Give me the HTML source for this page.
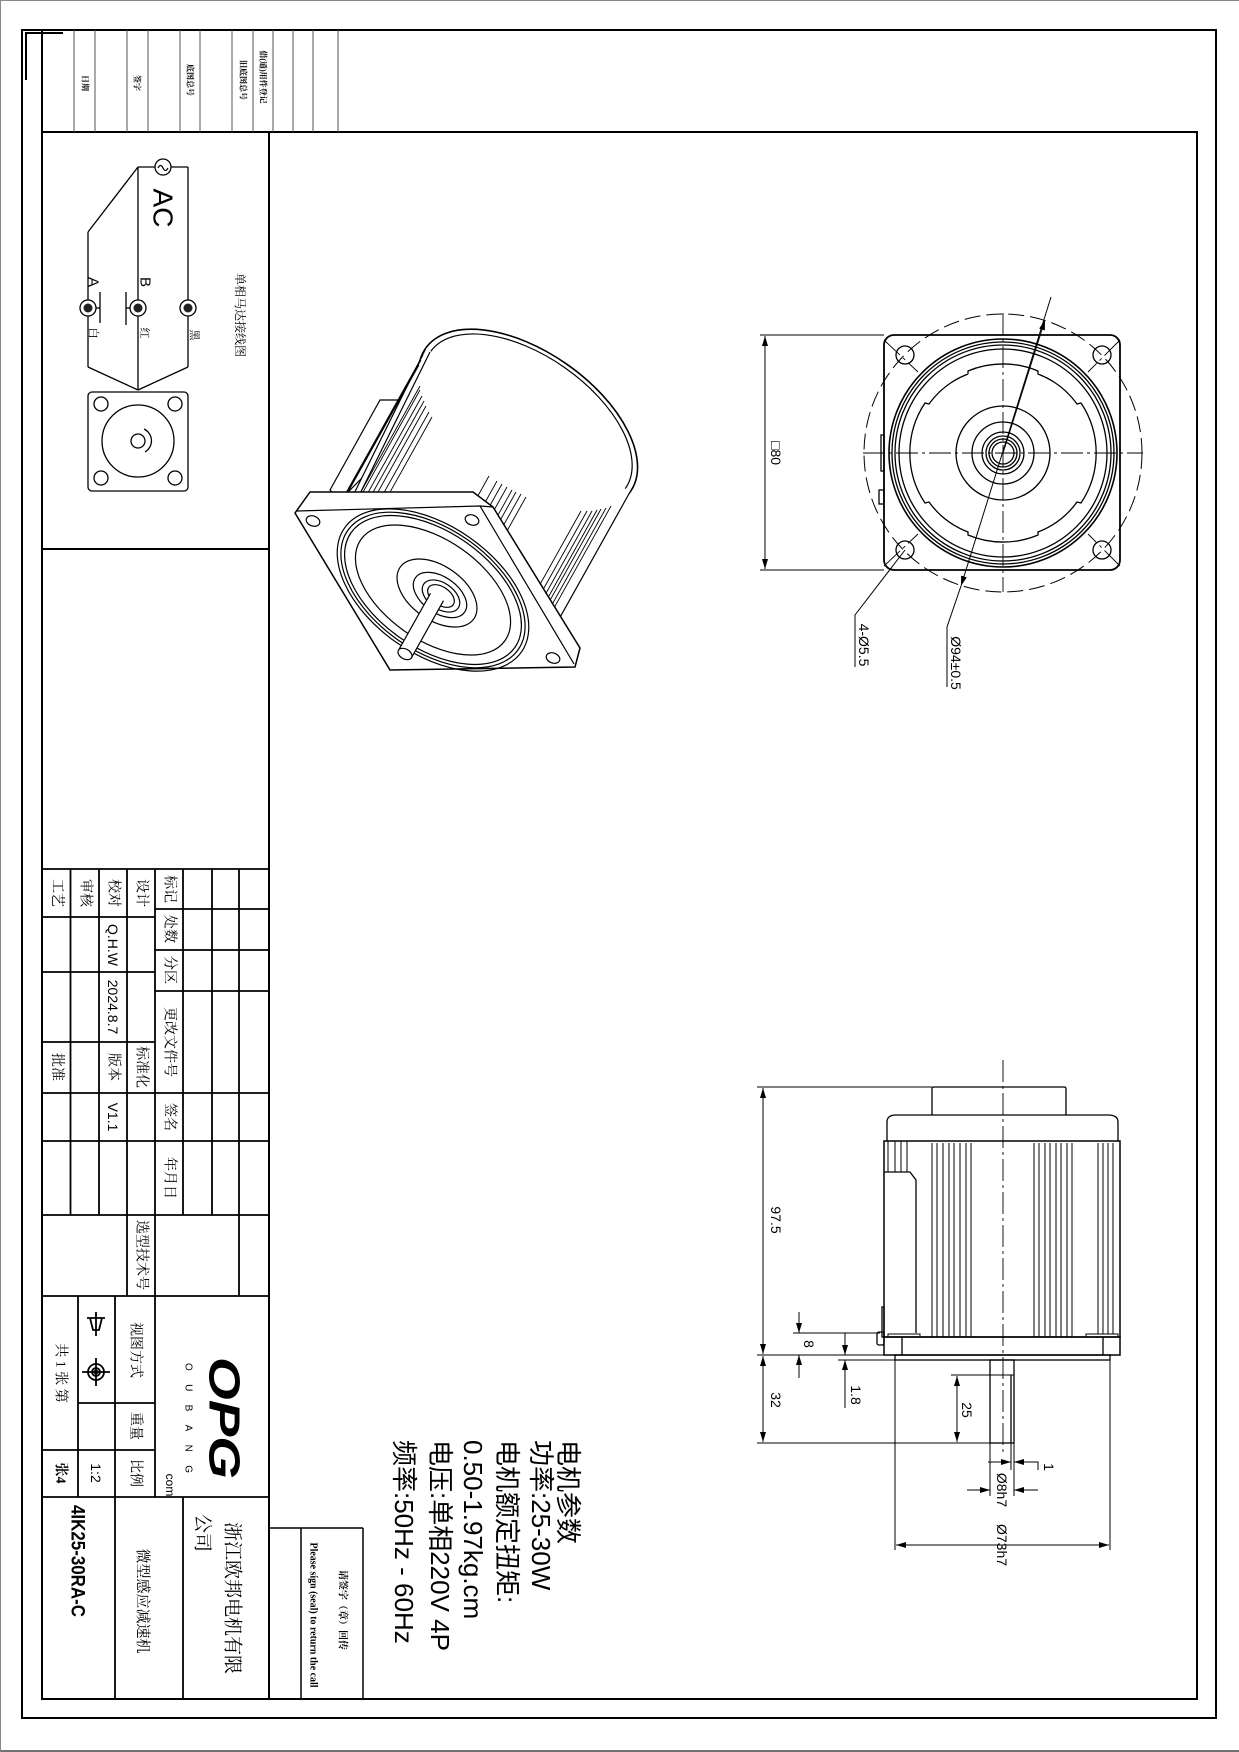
<!DOCTYPE html>
<html><head><meta charset="utf-8">
<style>
html,body{margin:0;padding:0;background:#fff;}
svg{display:block;}
text{font-family:"Liberation Sans","Noto Sans CJK SC",sans-serif;fill:#000;}
.s{font-family:"Liberation Serif","Noto Serif CJK SC",serif;}
</style></head><body>
<svg width="1239" height="1752" viewBox="0 0 1239 1752" xmlns="http://www.w3.org/2000/svg">
<defs>
<marker id="ar" viewBox="0 0 10 6" refX="10" refY="3" markerWidth="10" markerHeight="6" markerUnits="userSpaceOnUse" orient="auto-start-reverse"><path d="M0,0 L10,3 L0,6 z" fill="#000"/></marker>
</defs>
<rect x="0" y="0" width="1239" height="1752" fill="#fff"/>
<line x1="0" y1="1751" x2="1239" y2="1751" stroke="#444" stroke-width="1.5"/>
<line x1="0.5" y1="0" x2="0.5" y2="1752" stroke="#888" stroke-width="1"/>
<line x1="0" y1="0.5" x2="1239" y2="0.5" stroke="#888" stroke-width="1"/>
<!-- frames -->
<g fill="none" stroke="#000">
<rect x="22" y="30" width="1194" height="1688" stroke-width="2"/>
<rect x="42" y="132" width="1155" height="1567" stroke-width="2"/>
<line x1="42" y1="30" x2="42" y2="132" stroke-width="2"/>
<path d="M63,33 H26 V80" stroke-width="2"/>
<g stroke-width="1" stroke="#555">
<line x1="74" y1="30" x2="74" y2="132"/><line x1="95" y1="30" x2="95" y2="132"/>
<line x1="127" y1="30" x2="127" y2="132"/><line x1="148" y1="30" x2="148" y2="132"/>
<line x1="180" y1="30" x2="180" y2="132"/><line x1="200" y1="30" x2="200" y2="132"/>
<line x1="232" y1="30" x2="232" y2="132"/><line x1="253" y1="30" x2="253" y2="132"/>
<line x1="273" y1="30" x2="273" y2="132"/><line x1="293" y1="30" x2="293" y2="132"/>
<line x1="313" y1="30" x2="313" y2="132"/><line x1="338" y1="30" x2="338" y2="132"/>
</g>
<!-- title column -->
<line x1="269" y1="132" x2="269" y2="1699" stroke-width="2"/>
<line x1="42" y1="549" x2="269" y2="549" stroke-width="2"/>
<g stroke-width="1.8">
<line x1="42" y1="869" x2="269" y2="869"/>
<line x1="155" y1="909" x2="269" y2="909"/><line x1="155" y1="950" x2="269" y2="950"/><line x1="155" y1="991" x2="269" y2="991"/>
<line x1="42" y1="917" x2="155" y2="917"/><line x1="42" y1="972" x2="155" y2="972"/><line x1="42" y1="1042" x2="155" y2="1042"/>
<line x1="42" y1="1093" x2="269" y2="1093"/><line x1="42" y1="1141" x2="269" y2="1141"/>
<line x1="42" y1="1215" x2="269" y2="1215"/><line x1="42" y1="1296" x2="269" y2="1296"/>
<line x1="70.5" y1="869" x2="70.5" y2="1215"/><line x1="99" y1="869" x2="99" y2="1215"/><line x1="127" y1="869" x2="127" y2="1296"/>
<line x1="155" y1="869" x2="155" y2="1497"/><line x1="183" y1="869" x2="183" y2="1215"/><line x1="212" y1="869" x2="212" y2="1215"/>
<line x1="239" y1="869" x2="239" y2="1296"/>
<line x1="78" y1="1296" x2="78" y2="1497"/><line x1="115" y1="1296" x2="115" y2="1699"/>
<line x1="78" y1="1403" x2="155" y2="1403"/><line x1="42" y1="1450" x2="155" y2="1450"/>
<line x1="42" y1="1497" x2="269" y2="1497"/>
<line x1="183" y1="1497" x2="183" y2="1699"/>
</g>
<!-- stamp box -->
<g stroke-width="1.5"><line x1="269" y1="1528" x2="363" y2="1528"/><line x1="301" y1="1528" x2="301" y2="1699"/><line x1="363" y1="1528" x2="363" y2="1699"/></g>
</g>
<!-- strip labels -->
<g font-size="8" font-weight="bold" class="s">
<text class="s" transform="translate(85,83) rotate(90)" text-anchor="middle" dominant-baseline="central">日期</text>
<text class="s" transform="translate(137,83) rotate(90)" text-anchor="middle" dominant-baseline="central">签字</text>
<text class="s" transform="translate(190,80) rotate(90)" text-anchor="middle" dominant-baseline="central">底图总号</text>
<text class="s" transform="translate(243,80) rotate(90)" text-anchor="middle" dominant-baseline="central">旧底图总号</text>
<text class="s" transform="translate(263,77) rotate(90)" text-anchor="middle" dominant-baseline="central">借(通)用件登记</text>
</g>
<!-- wiring diagram -->
<g fill="none" stroke="#000" stroke-width="1.3">
<line x1="138" y1="167" x2="155" y2="167"/><line x1="171" y1="167" x2="188" y2="167"/>
<circle cx="163" cy="167" r="8"/>
<path d="M158,168 q2.5,-5 5,0 t5,0"/>
<line x1="138" y1="167" x2="138" y2="390"/><line x1="188" y1="167" x2="188" y2="367"/>
<line x1="138" y1="167" x2="88" y2="232"/><line x1="88" y1="232" x2="88" y2="367"/>
<line x1="88" y1="367" x2="138" y2="390"/><line x1="188" y1="367" x2="138" y2="390"/>
<circle cx="88" cy="308" r="8" fill="#fff"/><circle cx="138" cy="308" r="8" fill="#fff"/><circle cx="188" cy="308" r="8" fill="#fff"/>
<line x1="100" y1="292" x2="100" y2="323"/><line x1="96" y1="308" x2="100" y2="308"/>
<line x1="126" y1="292" x2="126" y2="325"/><line x1="126" y1="308" x2="130" y2="308"/>
<rect x="88" y="392" width="100" height="99" rx="4"/>
<circle cx="138" cy="441" r="36"/>
<circle cx="101" cy="404" r="7"/><circle cx="175" cy="404" r="7"/><circle cx="101" cy="478" r="7"/><circle cx="175" cy="478" r="7"/>
<circle cx="138" cy="441" r="7"/>
<path d="M144,429 A13,13 0 0 1 145,452"/>
</g>
<g fill="#222"><circle cx="88" cy="308" r="4.5"/><circle cx="138" cy="308" r="4.5"/><circle cx="188" cy="308" r="4.5"/></g>
<text transform="translate(163,208) rotate(90)" text-anchor="middle" dominant-baseline="central" font-size="28">AC</text>
<text transform="translate(93,282) rotate(90)" text-anchor="middle" dominant-baseline="central" font-size="15">A</text>
<text transform="translate(145,282) rotate(90)" text-anchor="middle" dominant-baseline="central" font-size="15">B</text>
<g class="s" font-size="11">
<text class="s" transform="translate(93,333) rotate(90)" text-anchor="middle" dominant-baseline="central">白</text>
<text class="s" transform="translate(144,333) rotate(90)" text-anchor="middle" dominant-baseline="central">红</text>
<text class="s" transform="translate(194,335) rotate(90)" text-anchor="middle" dominant-baseline="central">黑</text>
<text class="s" transform="translate(240,315) rotate(90)" text-anchor="middle" dominant-baseline="central" font-size="12">单相马达接线图</text>
</g>
<!-- table text -->
<g class="s" font-size="14">
<text class="s" transform="translate(169,889) rotate(90)" text-anchor="middle" dominant-baseline="central">标记</text>
<text class="s" transform="translate(169,929) rotate(90)" text-anchor="middle" dominant-baseline="central">处数</text>
<text class="s" transform="translate(169,970) rotate(90)" text-anchor="middle" dominant-baseline="central">分区</text>
<text class="s" transform="translate(169,1042) rotate(90)" text-anchor="middle" dominant-baseline="central">更改文件号</text>
<text class="s" transform="translate(169,1117) rotate(90)" text-anchor="middle" dominant-baseline="central">签名</text>
<text class="s" transform="translate(169,1178) rotate(90)" text-anchor="middle" dominant-baseline="central">年月日</text>
<text class="s" transform="translate(56.5,893) rotate(90)" text-anchor="middle" dominant-baseline="central">工艺</text>
<text class="s" transform="translate(85,893) rotate(90)" text-anchor="middle" dominant-baseline="central">审核</text>
<text class="s" transform="translate(113,893) rotate(90)" text-anchor="middle" dominant-baseline="central">校对</text>
<text class="s" transform="translate(141,893) rotate(90)" text-anchor="middle" dominant-baseline="central">设计</text>
<text class="s" transform="translate(56.5,1067) rotate(90)" text-anchor="middle" dominant-baseline="central">批准</text>
<text class="s" transform="translate(113,1067) rotate(90)" text-anchor="middle" dominant-baseline="central">版本</text>
<text class="s" transform="translate(141,1067) rotate(90)" text-anchor="middle" dominant-baseline="central">标准化</text>
<text class="s" transform="translate(141,1255) rotate(90)" text-anchor="middle" dominant-baseline="central">选型技术号</text>
<text class="s" transform="translate(135,1350) rotate(90)" text-anchor="middle" dominant-baseline="central">视图方式</text>
<text class="s" transform="translate(135,1426) rotate(90)" text-anchor="middle" dominant-baseline="central">重量</text>
<text class="s" transform="translate(135,1473) rotate(90)" text-anchor="middle" dominant-baseline="central">比例</text>
<text class="s" transform="translate(60,1373) rotate(90)" text-anchor="middle" dominant-baseline="central" xml:space="preserve">共 1 张 第</text>
<text class="s" transform="translate(60,1473) rotate(90)" text-anchor="middle" dominant-baseline="central" font-weight="bold">张4</text>
<text class="s" transform="translate(142,1601) rotate(90)" text-anchor="middle" dominant-baseline="central" font-size="15">微型感应减速机</text>
<text class="s" transform="translate(232,1598) rotate(90)" text-anchor="middle" dominant-baseline="central" font-size="19">浙江欧邦电机有限</text>
<text class="s" transform="translate(202,1533) rotate(90)" text-anchor="middle" dominant-baseline="central" font-size="19">公司</text>
</g>
<g font-size="14">
<text transform="translate(113,945) rotate(90)" text-anchor="middle" dominant-baseline="central">Q.H.W</text>
<text transform="translate(113,1007) rotate(90)" text-anchor="middle" dominant-baseline="central">2024.8.7</text>
<text transform="translate(113,1117) rotate(90)" text-anchor="middle" dominant-baseline="central">V1.1</text>
<text transform="translate(96,1473) rotate(90)" text-anchor="middle" dominant-baseline="central">1:2</text>
<text transform="translate(77,1561) rotate(90)" text-anchor="middle" dominant-baseline="central" font-size="19" font-weight="bold" textLength="112" lengthAdjust="spacingAndGlyphs">4IK25-30RA-C</text>
</g>
<!-- view symbol -->
<g fill="none" stroke="#000" stroke-width="1.8">
<path d="M87,1318 L105,1318 M90,1318 L93,1330 L99,1330 L102,1318 M96,1312 V1336" />
<circle cx="96" cy="1372" r="8"/><circle cx="96" cy="1372" r="4"/>
<line x1="82" y1="1372" x2="110" y2="1372"/><line x1="96" y1="1358" x2="96" y2="1386"/>
</g>
<circle cx="96" cy="1372" r="2.5" fill="#000"/>
<!-- logo -->
<text transform="translate(224,1418) rotate(90)" text-anchor="middle" dominant-baseline="central" font-size="44" font-weight="bold" font-style="italic" textLength="122" lengthAdjust="spacingAndGlyphs">OPG</text>
<text transform="translate(188,1418) rotate(90)" text-anchor="middle" dominant-baseline="central" font-size="10" textLength="110" lengthAdjust="spacing">OUBANG</text>
<text transform="translate(170,1485) rotate(90)" text-anchor="middle" dominant-baseline="central" font-size="12">com</text>
<!-- stamp text -->
<text class="s" transform="translate(342,1610) rotate(90)" text-anchor="middle" dominant-baseline="central" font-size="10" font-weight="bold">请签字（章）回传</text>
<text class="s" transform="translate(313,1615) rotate(90)" text-anchor="middle" dominant-baseline="central" font-size="10" font-weight="bold" textLength="145" lengthAdjust="spacingAndGlyphs">Please sign (seal) to return the call</text>
<!-- specs -->
<g font-size="26">
<text transform="translate(568,1440) rotate(90)" dominant-baseline="central">电机参数</text>
<text transform="translate(541,1440) rotate(90)" dominant-baseline="central">功率:25-30W</text>
<text transform="translate(507,1440) rotate(90)" dominant-baseline="central">电机额定扭矩:</text>
<text transform="translate(473,1440) rotate(90)" dominant-baseline="central">0.50-1.97kg.cm</text>
<text transform="translate(440,1440) rotate(90)" dominant-baseline="central">电压:单相220V 4P</text>
<text transform="translate(404,1440) rotate(90)" dominant-baseline="central">频率:50Hz - 60Hz</text>
</g>

<!-- ISO VIEW -->
<g fill="none" stroke="#000" stroke-width="1.2">
<path d="M380,400 L408,400 L420,420 L340,500 L330,490 Z" fill="#fff"/>
<ellipse cx="528" cy="420" rx="125" ry="68" transform="rotate(35 528 420)" fill="#fff" stroke-width="1.6"/>
<ellipse cx="528" cy="420" rx="119" ry="64" transform="rotate(35 528 420)"/>
<path d="M339,524 L426,348 L630,492 L527,656 Z" fill="#fff" stroke="none"/>
<line x1="339" y1="524" x2="426" y2="348"/><line x1="344" y1="526" x2="430" y2="352"/>
<line x1="630" y1="492" x2="549" y2="637"/>
<g stroke-width="0.9">
<line x1="611" y1="506" x2="530" y2="651"/><line x1="606" y1="508" x2="525" y2="653"/>
<line x1="601" y1="509" x2="520" y2="654"/><line x1="597" y1="510" x2="516" y2="655"/>
<line x1="592" y1="511" x2="511" y2="656"/><line x1="587" y1="511" x2="506" y2="656"/>
<line x1="581" y1="511" x2="500" y2="656"/>
<line x1="526" y1="497" x2="445" y2="642"/><line x1="521" y1="494" x2="440" y2="639"/>
<line x1="516" y1="492" x2="435" y2="637"/><line x1="512" y1="490" x2="431" y2="635"/>
<line x1="507" y1="487" x2="426" y2="632"/><line x1="502" y1="484" x2="421" y2="629"/>
<line x1="497" y1="481" x2="416" y2="626"/><line x1="489" y1="476" x2="408" y2="621"/>
<line x1="432" y1="417" x2="351" y2="562"/><line x1="429" y1="412" x2="348" y2="557"/>
<line x1="426" y1="406" x2="345" y2="551"/><line x1="424" y1="401" x2="343" y2="546"/>
<line x1="422" y1="396" x2="341" y2="541"/><line x1="420" y1="390" x2="339" y2="535"/>
<line x1="420" y1="386" x2="339" y2="531"/>
<line x1="419" y1="365" x2="338" y2="510"/><line x1="421" y1="360" x2="340" y2="505"/>
<line x1="423" y1="355" x2="342" y2="500"/>
</g>
<!-- flange -->
<path d="M295,513 L310,492 L473,492 L493,507 L580,648 L575,667 L390,670 Z" fill="#fff" stroke-width="1.5"/>
<path d="M297,511 L480,506 L574,664"/>
<line x1="480" y1="506" x2="493" y2="507"/>
<ellipse cx="313" cy="521" rx="7" ry="5" transform="rotate(20 313 521)"/>
<ellipse cx="472" cy="520" rx="7" ry="5" transform="rotate(20 472 520)"/>
<ellipse cx="553" cy="658" rx="7" ry="5" transform="rotate(20 553 658)"/>
<ellipse cx="433" cy="590" rx="108" ry="64" transform="rotate(35 433 590)"/>
<ellipse cx="433" cy="590" rx="104" ry="61" transform="rotate(35 433 590)"/>
<ellipse cx="433" cy="590" rx="100" ry="58" transform="rotate(35 433 590)"/>
<ellipse cx="433" cy="590" rx="88" ry="50" transform="rotate(35 433 590)"/>
<ellipse cx="437" cy="593" rx="45" ry="27" transform="rotate(35 437 593)"/>
<ellipse cx="440" cy="595" rx="30" ry="18" transform="rotate(35 440 595)"/>
<ellipse cx="441" cy="596" rx="21" ry="13" transform="rotate(35 441 596)"/>
<ellipse cx="441" cy="596" rx="15" ry="9" transform="rotate(35 441 596)"/>
<path d="M443.5,600.7 L411.5,657.7 L398.5,650.3 L430.5,593.3" fill="#fff"/>
<ellipse cx="405" cy="654" rx="7.5" ry="5" transform="rotate(29 405 654)" fill="#fff"/>
</g>

<!-- FRONT VIEW -->
<g fill="none" stroke="#000" stroke-width="1.3">
<line x1="760" y1="335" x2="884" y2="335" stroke-width="1"/>
<line x1="760" y1="570" x2="884" y2="570" stroke-width="1"/>
<line x1="765" y1="336" x2="765" y2="569" stroke-width="1" marker-start="url(#ar)" marker-end="url(#ar)"/>
<rect x="884" y="335" width="236" height="235" rx="10" stroke-width="1.8"/>
<rect x="881" y="435" width="3" height="36"/>
<rect x="879" y="490" width="5" height="14"/>
<circle cx="1003" cy="453" r="139" stroke-dasharray="16,6" stroke-width="1"/>
<circle cx="1003" cy="453" r="114" stroke-width="1.6"/>
<circle cx="1003" cy="453" r="111"/>
<circle cx="1003" cy="453" r="108"/>
<circle cx="1003" cy="453" r="104"/>
<path d="M968,374 L968,371 A90,90 0 0 1 1038,371 L1038,374 A86,86 0 0 1 1077,404 L1081,403 A90,90 0 0 1 1081,503 L1077,502 A86,86 0 0 1 1038,532 L1038,535 A90,90 0 0 1 968,535 L968,532 A86,86 0 0 1 929,502 L925,503 A90,90 0 0 1 925,403 L929,404 A86,86 0 0 1 968,374"/>
<circle cx="1003" cy="453" r="47"/>
<circle cx="1003" cy="453" r="31"/>
<circle cx="1003" cy="453" r="21"/>
<circle cx="1003" cy="453" r="17"/>
<circle cx="1003" cy="453" r="14"/>
<circle cx="1003" cy="453" r="11"/>
<circle cx="905" cy="355" r="9"/><circle cx="1102" cy="355" r="9"/>
<circle cx="905" cy="550" r="9"/><circle cx="1102" cy="550" r="9"/>
<g stroke-width="0.9" stroke-dasharray="22,4,3,4">
<line x1="863" y1="453" x2="1143" y2="453"/>
<line x1="1003" y1="313" x2="1003" y2="592"/>
<line x1="884" y1="340" x2="918" y2="372"/><line x1="1120" y1="340" x2="1088" y2="372"/>
<line x1="884" y1="566" x2="918" y2="534"/><line x1="1120" y1="566" x2="1088" y2="534"/>
</g>
<line x1="1051" y1="297" x2="961" y2="586" stroke-width="1" marker-end="url(#ar)"/>
<line x1="1003" y1="453" x2="1045" y2="320" stroke-width="1" marker-end="url(#ar)"/>
<polyline points="961,586 947,627 947,687" stroke-width="1"/>
<polyline points="905,550 855,615 855,667" stroke-width="1"/>
</g>
<text transform="translate(776,453) rotate(90)" text-anchor="middle" dominant-baseline="central" font-size="14">□80</text>
<text transform="translate(864,645) rotate(90)" text-anchor="middle" dominant-baseline="central" font-size="14">4-Ø5.5</text>
<text transform="translate(956,663) rotate(90)" text-anchor="middle" dominant-baseline="central" font-size="14">Ø94±0.5</text>

<!-- SIDE VIEW -->
<g fill="none" stroke="#000" stroke-width="1.3">
<path d="M932,1115 V1089 Q932,1087 934,1087 H1064 Q1066,1087 1066,1089 V1115"/>
<path d="M887,1141 V1122 Q887,1115 896,1115 H1108 Q1118,1115 1118,1122 V1141"/>
<rect x="884" y="1141" width="236" height="196" stroke-width="1.5"/>
<g stroke-width="1">
<line x1="888" y1="1141" x2="888" y2="1172"/><line x1="895" y1="1141" x2="895" y2="1172"/>
<line x1="901" y1="1141" x2="901" y2="1172"/><line x1="907" y1="1141" x2="907" y2="1172"/>
<line x1="932" y1="1143" x2="932" y2="1337"/><line x1="937" y1="1143" x2="937" y2="1337"/>
<line x1="943" y1="1143" x2="943" y2="1337"/><line x1="949" y1="1143" x2="949" y2="1337"/>
<line x1="954" y1="1143" x2="954" y2="1337"/><line x1="960" y1="1143" x2="960" y2="1337"/>
<line x1="966" y1="1143" x2="966" y2="1337"/><line x1="971" y1="1143" x2="971" y2="1337"/>
<line x1="1034" y1="1143" x2="1034" y2="1337"/><line x1="1039" y1="1143" x2="1039" y2="1337"/>
<line x1="1045" y1="1143" x2="1045" y2="1337"/><line x1="1050" y1="1143" x2="1050" y2="1337"/>
<line x1="1056" y1="1143" x2="1056" y2="1337"/><line x1="1061" y1="1143" x2="1061" y2="1337"/>
<line x1="1067" y1="1143" x2="1067" y2="1337"/><line x1="1072" y1="1143" x2="1072" y2="1337"/>
<line x1="1098" y1="1143" x2="1098" y2="1334"/><line x1="1103" y1="1143" x2="1103" y2="1334"/>
<line x1="1108" y1="1143" x2="1108" y2="1334"/><line x1="1113" y1="1143" x2="1113" y2="1334"/>
</g>
<path d="M884,1172 H910 L916,1180 V1333" />
<path d="M888,1337 V1334 H920 V1337 M1086,1337 V1334 H1118 V1337" stroke-width="1"/>
<rect x="884" y="1337" width="236" height="18" stroke-width="1.5"/>
<line x1="902" y1="1337" x2="902" y2="1355"/><line x1="1103" y1="1337" x2="1103" y2="1355"/>
<rect x="895" y="1355" width="215" height="5"/>
<rect x="990" y="1360" width="24" height="83"/>
<line x1="1011" y1="1375" x2="1011" y2="1443"/>
<rect x="882" y="1307" width="2" height="30"/>
<rect x="877" y="1332" width="7" height="13" rx="2"/>
<line x1="1003" y1="1060" x2="1003" y2="1452" stroke-width="0.9" stroke-dasharray="22,4,3,4"/>
<!-- dims -->
<g stroke-width="1">
<line x1="757" y1="1087" x2="932" y2="1087"/>
<line x1="757" y1="1355" x2="884" y2="1355"/>
<line x1="757" y1="1443" x2="990" y2="1443"/>
<line x1="763" y1="1088" x2="763" y2="1354" marker-start="url(#ar)" marker-end="url(#ar)"/>
<line x1="763" y1="1356" x2="763" y2="1442" marker-start="url(#ar)" marker-end="url(#ar)"/>
<line x1="793" y1="1333" x2="880" y2="1333"/>
<line x1="799" y1="1312" x2="799" y2="1333" marker-end="url(#ar)"/>
<line x1="799" y1="1378" x2="799" y2="1355" marker-end="url(#ar)"/>
<line x1="838" y1="1360" x2="895" y2="1360"/>
<line x1="845" y1="1333" x2="845" y2="1355" marker-end="url(#ar)"/>
<line x1="845" y1="1408" x2="845" y2="1360" marker-end="url(#ar)"/>
<line x1="951" y1="1375" x2="1014" y2="1375"/>
<line x1="957" y1="1376" x2="957" y2="1442" marker-start="url(#ar)" marker-end="url(#ar)"/>
<line x1="990" y1="1443" x2="990" y2="1496"/><line x1="1014" y1="1443" x2="1014" y2="1496"/>
<line x1="1011" y1="1443" x2="1011" y2="1470"/>
<line x1="967" y1="1490" x2="990" y2="1490" marker-end="url(#ar)"/>
<line x1="1038" y1="1490" x2="1014" y2="1490" marker-end="url(#ar)"/>
<line x1="988" y1="1462" x2="1011" y2="1462" marker-end="url(#ar)"/>
<polyline points="1038,1470 1038,1462 1014,1462" marker-end="url(#ar)"/>
<line x1="895" y1="1360" x2="895" y2="1550"/><line x1="1110" y1="1360" x2="1110" y2="1550"/>
<line x1="896" y1="1545" x2="1109" y2="1545" marker-start="url(#ar)" marker-end="url(#ar)"/>
</g>
</g>
<g font-size="14">
<text transform="translate(776,1220) rotate(90)" text-anchor="middle" dominant-baseline="central">97.5</text>
<text transform="translate(776,1400) rotate(90)" text-anchor="middle" dominant-baseline="central">32</text>
<text transform="translate(809,1344) rotate(90)" text-anchor="middle" dominant-baseline="central">8</text>
<text transform="translate(856,1395) rotate(90)" text-anchor="middle" dominant-baseline="central">1.8</text>
<text transform="translate(967,1410) rotate(90)" text-anchor="middle" dominant-baseline="central">25</text>
<text transform="translate(1049,1467) rotate(90)" text-anchor="middle" dominant-baseline="central">1</text>
<text transform="translate(1002,1490) rotate(90)" text-anchor="middle" dominant-baseline="central">Ø8h7</text>
<text transform="translate(1002,1545) rotate(90)" text-anchor="middle" dominant-baseline="central">Ø73h7</text>
</g>
</svg>
</body></html>
